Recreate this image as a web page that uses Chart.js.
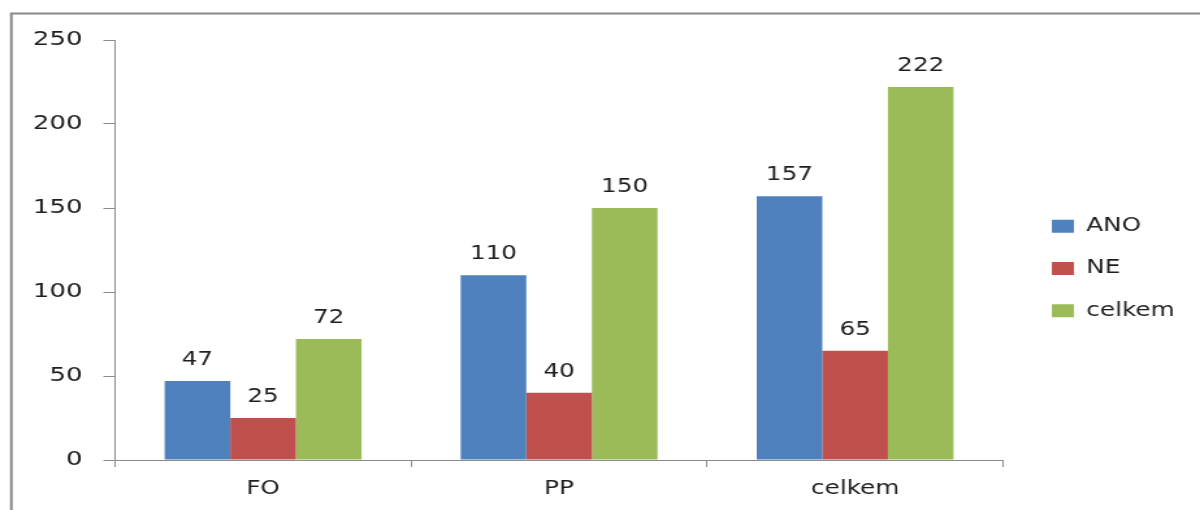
<!DOCTYPE html>
<html>
<head>
<meta charset="utf-8">
<script src="https://cdn.jsdelivr.net/npm/chart.js@4/dist/chart.umd.min.js"></script>
<style>
  html, body { margin: 0; padding: 0; background: #fff; overflow: hidden; }
  #wrap {
    width: 923px; height: 510px;
    transform: scaleX(1.30011);
    transform-origin: 0 0;
  }
  canvas { display: block; }
</style>
</head>
<body>
<div id="wrap"><canvas id="chart" width="923" height="510"></canvas></div>
<script>
// Categories and series
const categories = ['FO', 'PP', 'celkem'];
const seriesNames = ['ANO', 'NE', 'celkem'];
const ano = [47, 110, 157];
const ne = [25, 40, 65];
const celkem = [72, 150, 222];
const yTicks = [0, 50, 100, 150, 200, 250];

const colors = ['#4F81BD', '#C0504D', '#9BBB59'];
const FONT = 'DejaVu Sans';
const TEXT = '#1e1e1e';
const AXIS = '#8c8c8c';

// Outer frame (top and left edges)
const framePlugin = {
  id: 'frame',
  beforeDraw(chart) {
    const ctx = chart.ctx;
    ctx.save();
    ctx.strokeStyle = '#888888';
    ctx.lineWidth = 2;
    ctx.beginPath();
    ctx.moveTo(8.7, chart.height + 2);
    ctx.lineTo(8.7, 13.5);
    ctx.lineTo(chart.width + 2, 13.5);
    ctx.stroke();
    ctx.restore();
  }
};

// Value labels above each bar
const valueLabels = {
  id: 'valueLabels',
  afterDatasetsDraw(chart) {
    const ctx = chart.ctx;
    ctx.save();
    ctx.font = '19px "' + FONT + '"';
    ctx.fillStyle = TEXT;
    ctx.textAlign = 'center';
    ctx.textBaseline = 'alphabetic';
    chart.data.datasets.forEach((ds, i) => {
      const meta = chart.getDatasetMeta(i);
      meta.data.forEach((bar, j) => {
        ctx.fillText(String(ds.data[j]), bar.x, bar.y - 16);
      });
    });
    ctx.restore();
  }
};

// Invisible scale used only to reserve space
const spacer = (position, size) => ({
  position,
  display: true,
  grid: { display: false },
  border: { display: false },
  ticks: { display: false },
  afterFit(scale) {
    if (scale.isHorizontal()) scale.height = size; else scale.width = size;
  }
});

new Chart(document.getElementById('chart'), {
  type: 'bar',
  data: {
    labels: categories,
    datasets: [
      { label: seriesNames[0], data: ano, backgroundColor: colors[0] },
      { label: seriesNames[1], data: ne, backgroundColor: colors[1] },
      { label: seriesNames[2], data: celkem, backgroundColor: colors[2] }
    ]
  },
  options: {
    responsive: false,
    animation: false,
    layout: { padding: { left: 25, right: 9.5, top: 31.2, bottom: 4.2 } },
    datasets: {
      bar: { categoryPercentage: 0.665, barPercentage: 1.0, borderWidth: 0 }
    },
    plugins: {
      tooltip: { enabled: false },
      legend: {
        position: 'right',
        align: 'center',
        labels: {
          boxWidth: 17,
          boxHeight: 13,
          padding: 23.2,
          color: TEXT,
          font: { family: FONT, size: 19 }
        }
      }
    },
    scales: {
      x: {
        grid: {
          display: true,
          offset: true,
          drawOnChartArea: false,
          drawTicks: true,
          tickLength: 7,
          color: AXIS
        },
        border: { display: true, color: AXIS, width: 1 },
        ticks: {
          color: TEXT,
          padding: 11,
          font: { family: FONT, size: 19 }
        },
        afterFit(scale) { scale.height = 45.8; }
      },
      y: {
        min: yTicks[0],
        max: yTicks[yTicks.length - 1],
        afterBuildTicks(scale) { scale.ticks = yTicks.map(v => ({ value: v })); },
        grid: {
          display: true,
          drawOnChartArea: false,
          drawTicks: true,
          tickLength: 9,
          color: AXIS
        },
        border: { display: true, color: AXIS, width: 1 },
        ticks: {
          color: TEXT,
          padding: 16,
          font: { family: FONT, size: 20 }
        },
        afterFit(scale) { scale.width = 63.5; }
      },
      // space between the plot and the legend / above the plot
      gapRight: spacer('right', 14.3),
      gapTop: spacer('top', 8.8)
    }
  },
  plugins: [framePlugin, valueLabels]
});
</script>
</body>
</html>
